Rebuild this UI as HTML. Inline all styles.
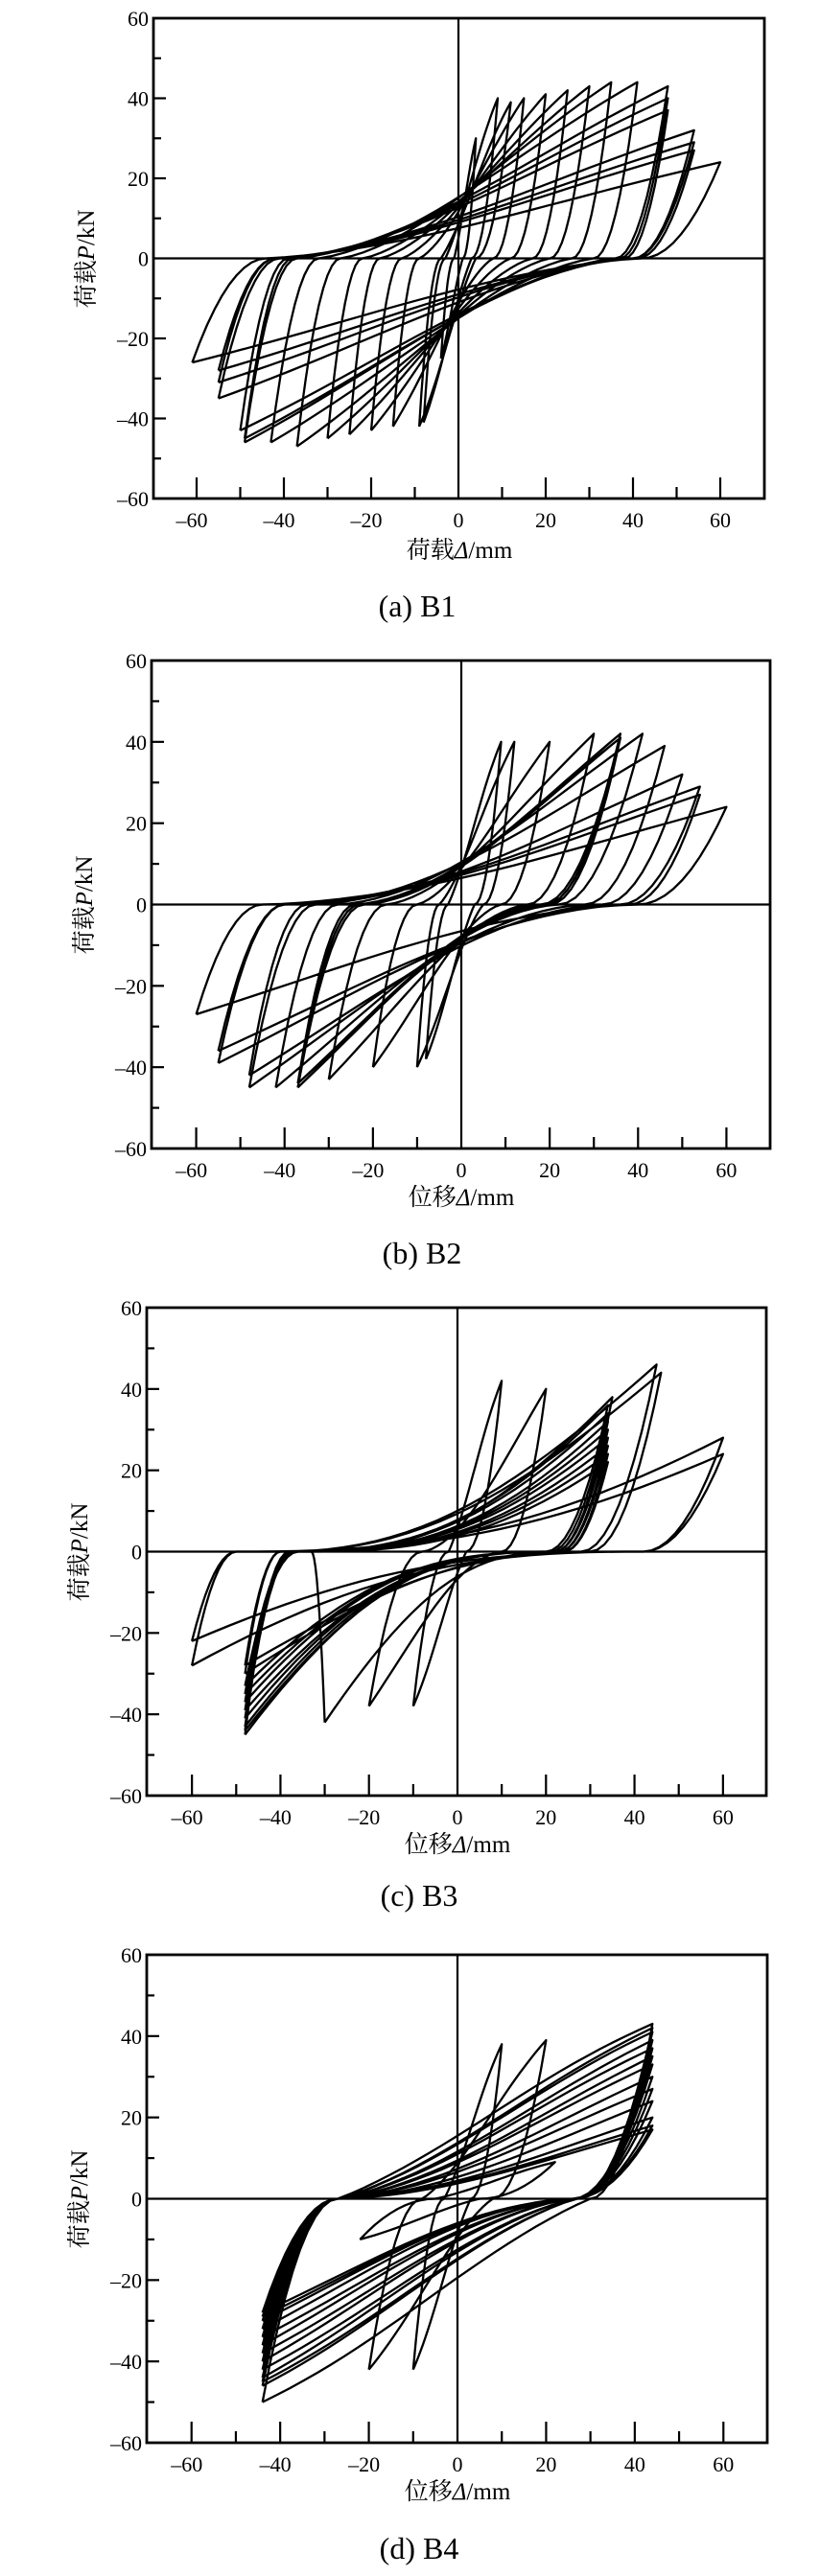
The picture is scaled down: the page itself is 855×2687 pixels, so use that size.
<!DOCTYPE html>
<html><head><meta charset="utf-8">
<style>
html,body{margin:0;padding:0;background:#fff;}
svg{display:block;}
text{font-family:"Liberation Serif","Noto Serif CJK SC","Noto Sans CJK SC",serif;fill:#000;}
</style></head>
<body>
<svg id="s" xmlns="http://www.w3.org/2000/svg" width="855" height="2687" viewBox="0 0 855 2687">
<g id="g1"></g><g id="g2"></g><g id="g3"></g><g id="g4"></g>

<text x="435" y="643" font-size="32" text-anchor="middle">(a) B1</text>
<text x="440" y="1318" font-size="32" text-anchor="middle">(b) B2</text>
<text x="437" y="1988" font-size="32" text-anchor="middle">(c) B3</text>
<text x="437" y="2669" font-size="32" text-anchor="middle">(d) B4</text>

<text x="479" y="582" font-size="25" text-anchor="middle">荷载<tspan font-style="italic">Δ</tspan>/mm</text>
<text x="481" y="1257" font-size="25" text-anchor="middle">位移<tspan font-style="italic">Δ</tspan>/mm</text>
<text x="477" y="1932" font-size="25" text-anchor="middle">位移<tspan font-style="italic">Δ</tspan>/mm</text>
<text x="477" y="2607" font-size="25" text-anchor="middle">位移<tspan font-style="italic">Δ</tspan>/mm</text>

<text transform="translate(98,270) rotate(-90)" font-size="25" text-anchor="middle">荷载<tspan font-style="italic">P</tspan>/kN</text>
<text transform="translate(96,944) rotate(-90)" font-size="25" text-anchor="middle">荷载<tspan font-style="italic">P</tspan>/kN</text>
<text transform="translate(91,1619) rotate(-90)" font-size="25" text-anchor="middle">荷载<tspan font-style="italic">P</tspan>/kN</text>
<text transform="translate(91,2294) rotate(-90)" font-size="25" text-anchor="middle">荷载<tspan font-style="italic">P</tspan>/kN</text>
</svg>
<script>
var NS="http://www.w3.org/2000/svg";
function el(p,n,a,t){var e=document.createElementNS(NS,n);for(var k in a)e.setAttribute(k,a[k]);if(t!==undefined)e.textContent=t;p.appendChild(e);return e;}
var panels=[
 {g:"g1",l:160,r:797,t:19,b:520,x0:478},
 {g:"g2",l:158,r:803,t:689,b:1198,x0:481},
 {g:"g3",l:153,r:799,t:1364,b:1873,x0:477},
 {g:"g4",l:153,r:800,t:2039,b:2548,x0:477}
];
// cycles: [dp,Pp,dn,Pn,zu,zl,q]
var data=[
 [[4,30,4,25,-1,1,1],[9,40,8,41,-3,3,1],[12,39,9,42,-4,4,1],
  [15,40,15,42,-9,8,1.2],[20,41,20,43,-13,12,1.2],[25,42,25,44,-18,17,1.25],[30,43,30,45,-22,21,1.25],
  [35,44,37,47,-27,26,1.25],[41,44,43,46,-32,31,1.25],[48,43,49,46,-37,36,1.3],[48,40,49,45,-38,37,1.3],
  [48,37,50,43,-39,38,1.3],[54,32,55,35,-41,40,1.3],[54,29,55,31,-42,40,1.3],[54,27,55,28,-42,41,1.3],[60,24,61,26,-44,42,1.3]],
 [[9,40,8,38,-3,3,1],[12,40,10,40,-5,5,1.1],[20,40,20,40,-10,9,1.3],[30,42,30,43,-17,15,1.4],
  [36,42,37,45,-22,18,1.5],[36,42,37,45,-22,18,1.5],[36,42,37,45,-23,19,1.5],[36,41,37,44,-23,19,1.5],[36,41,37,44,-24,20,1.5],
  [41,42,42,45,-28,22,1.5],[46,39,48,45,-33,28,1.5],[50,32,48,42,-35,32,1.5],[54,29,55,39,-40,36,1.5],
  [54,27,55,36,-40,38,1.5],[60,24,60,27,-45,40,1.5]],
 [[10,42,10,38,-2,2,1],[20,40,20,38,-8,10,1.5],[35,38,30,42,-33,22,2.2],
  [34,36,48,45,-38,20,2.4],[34,34,48,44,-38,21,2.4],[34,32,48,43,-37,22,2.5],[34,30,48,41,-37,22,2.5],
  [34,28,48,39,-37,23,2.5],[34,26,48,37,-37,23,2.6],[34,24,48,35,-37,24,2.6],[34,22,48,33,-36,24,2.6],
  [45,46,48,30,-40,28,2],[46,44,48,28,-40,30,2],[60,28,60,28,-50,42,2.4],[60,24,60,22,-50,42,2.4]],
 [[10,38,10,42,-3,3,1],[20,39,20,42,-8,8,1.1],[22,9,22,10,-5,5,1],
  [44,43,44,50,-27,30,1.0],[44,42,44,46,-27,27,1.1],[44,41,44,45,-27,27,1.1],[44,39,44,44,-27,27,1.2],
  [44,37,44,42,-27,27,1.2],[44,35,44,40,-27,26,1.3],[44,33,44,38,-27,26,1.3],[44,30,44,36,-27,26,1.4],
  [44,27,44,34,-27,26,1.4],[44,24,44,32,-27,26,1.5],[44,20,44,30,-27,26,1.5],[44,18,44,29,-27,26,1.5],[44,17,44,28,-27,26,1.5]]
];
panels.forEach(function(P,i){
 var g=document.getElementById(P.g);
 var sx=(P.r-P.l)/140, y0=(P.t+P.b)/2, sy=(P.b-P.t)/120;
 var X=function(x){return P.x0+x*sx;}, Y=function(y){return y0-y*sy;};
 var d="";
 function branch(xa,ya,xz,xb,yb,q){
   var pts=[];
   for(var k=0;k<=10;k++){var s=k/10;pts.push([xa+(xz-xa)*s, ya*Math.pow(1-s,2)]);}
   for(var k=1;k<=24;k++){var s=k/24;var gg=0.6*Math.pow(s,q)+0.4*Math.pow(s,q+0.4)*(1+0.3*Math.sin(Math.PI*s));
     pts.push([xz+(xb-xz)*s, yb*Math.min(1,gg)]);}
   return pts;
 }
 data[i].forEach(function(c){
   var dp=c[0],Pp=c[1],dn=-c[2],Pn=-c[3],zu=c[4],zl=c[5],q=c[6];
   var up=branch(dn,Pn,zu,dp,Pp,q);
   var lo=branch(dp,Pp,zl,dn,Pn,q);
   var pts=up.concat(lo);
   d+="M"+pts.map(function(p){return X(p[0]).toFixed(1)+" "+Y(p[1]).toFixed(1);}).join("L");
 });
 el(g,"path",{d:d,fill:"none",stroke:"#000","stroke-width":"2.3","stroke-linejoin":"round"});
 el(g,"line",{x1:P.x0,y1:P.t,x2:P.x0,y2:P.b,stroke:"#000","stroke-width":"2.2"});
 el(g,"line",{x1:P.l,y1:y0,x2:P.r,y2:y0,stroke:"#000","stroke-width":"2.2"});
 el(g,"rect",{x:P.l,y:P.t,width:P.r-P.l,height:P.b-P.t,fill:"none",stroke:"#000","stroke-width":"2.8"});
 for(var v=-60;v<=60;v+=10){if(v===0)continue;var L=(v%20===0)?22:12;
   el(g,"line",{x1:X(v),y1:P.b,x2:X(v),y2:P.b-L,stroke:"#000","stroke-width":"2.2"});}
 for(var v=-60;v<=60;v+=20){el(g,"text",{x:X(v)-(v<0?5:0),y:P.b+30,"font-size":"22","text-anchor":"middle"},(v<0?"\u2013":"")+Math.abs(v));}
 for(var v=-50;v<=50;v+=10){if(v===0)continue;var L=(v%20===0)?13:8;
   el(g,"line",{x1:P.l,y1:Y(v),x2:P.l+L,y2:Y(v),stroke:"#000","stroke-width":"2.2"});}
 for(var v=-60;v<=60;v+=20){el(g,"text",{x:P.l-5,y:Y(v)+8,"font-size":"22","text-anchor":"end"},(v<0?"\u2013":"")+Math.abs(v));}
});
</script>
</body></html>
